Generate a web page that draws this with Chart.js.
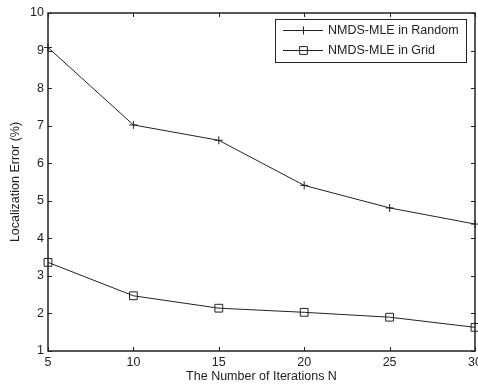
<!DOCTYPE html>
<html lang="en">
<head>
    <meta charset="UTF-8">
    <title>Localization Error</title>
    <script src="https://cdn.jsdelivr.net/npm/chart.js@4/dist/chart.umd.min.js"></script>
    <style>
        html, body { margin: 0; padding: 0; background: #fff; }
        #wrap { width: 478px; height: 387px; }
    </style>
</head>
<body>
    <div id="wrap"><canvas id="chart"></canvas></div>

    <script>
// dati
var iterations = [5, 10, 15, 20, 25, 30];
var errRandom = [9.08, 7.02, 6.61, 5.41, 4.81, 4.38];
var errGrid = [3.36, 2.47, 2.14, 2.03, 1.90, 1.63];
var seriesNames = ["NMDS-MLE in Random", "NMDS-MLE in Grid"];

var FONT = "'Liberation Sans', Arial, Helvetica, sans-serif";
var INK = "#222";

function toPoints(xs, ys) {
    return xs.map(function(x, i) { return { x: x, y: ys[i] }; });
}

// box stile MATLAB con tacche interne + legenda
var matlabBox = {
    id: "matlabBox",
    afterDatasetsDraw: function(chart) {
        var ctx = chart.ctx;
        var a = chart.chartArea;
        var xs = chart.scales.x, ys = chart.scales.y;
        ctx.save();
        ctx.strokeStyle = INK;
        ctx.lineWidth = 1;
        // tacche
        ctx.beginPath();
        xs.ticks.forEach(function(t) {
            var px = Math.round(xs.getPixelForValue(t.value)) + 0.5;
            ctx.moveTo(px, a.bottom); ctx.lineTo(px, a.bottom - 4);
            ctx.moveTo(px, a.top); ctx.lineTo(px, a.top + 4);
        });
        ys.ticks.forEach(function(t) {
            var py = Math.round(ys.getPixelForValue(t.value)) + 0.5;
            ctx.moveTo(a.left, py); ctx.lineTo(a.left + 4, py);
            ctx.moveTo(a.right, py); ctx.lineTo(a.right - 4, py);
        });
        ctx.stroke();
        // cornice
        ctx.lineWidth = 1.5;
        ctx.strokeRect(a.left, a.top, a.right - a.left, a.bottom - a.top);

        // legenda
        var lx = 275, ly = 19, lw = 191, lh = 43;
        ctx.fillStyle = "#fff";
        ctx.fillRect(lx, ly, lw, lh);
        ctx.lineWidth = 1;
        ctx.strokeRect(lx + 0.5, ly + 0.5, lw, lh);
        ctx.font = "12.5px " + FONT;
        ctx.textBaseline = "middle";
        chart.data.datasets.forEach(function(ds, i) {
            var ry = Math.round(ly + 11 + i * 20) + 0.5;
            ctx.strokeStyle = INK;
            ctx.lineWidth = 1;
            ctx.beginPath();
            ctx.moveTo(283, ry); ctx.lineTo(323, ry);
            ctx.stroke();
            ctx.fillStyle = "rgba(0,0,0,0)";
            Chart.helpers.drawPoint(ctx, {
                pointStyle: ds.pointStyle, radius: ds.pointRadius, borderWidth: 1
            }, 303.5, ry);
            ctx.fillStyle = INK;
            ctx.fillText(ds.label, 328, ry);
        });
        ctx.restore();
    }
};

new Chart(document.getElementById("chart"), {
    type: "line",
    data: {
        datasets: [{
            label: seriesNames[0],
            data: toPoints(iterations, errRandom),
            borderColor: INK,
            borderWidth: 1,
            pointStyle: "cross",
            pointRadius: 4,
            pointBorderColor: INK,
            pointBorderWidth: 1,
            clip: false,
            fill: false
        }, {
            label: seriesNames[1],
            data: toPoints(iterations, errGrid),
            borderColor: INK,
            borderWidth: 1,
            pointStyle: "rect",
            pointRadius: 5.5,
            pointBorderColor: INK,
            pointBackgroundColor: "rgba(0,0,0,0)",
            pointBorderWidth: 1,
            clip: false,
            fill: false
        }]
    },
    options: {
        responsive: true,
        maintainAspectRatio: false,
        animation: false,
        layout: { autoPadding: false, padding: { left: 0, right: 3, top: 13, bottom: 0 } },
        plugins: {
            legend: { display: false },
            tooltip: { enabled: false }
        },
        scales: {
            x: {
                type: "linear",
                min: 5, max: 30,
                grid: { display: false, drawTicks: false },
                border: { display: false },
                ticks: {
                    stepSize: 5, padding: 4, color: INK,
                    font: { family: FONT, size: 12.5 },
                    maxRotation: 0
                },
                title: {
                    display: true, text: "The Number of Iterations N", color: INK,
                    font: { family: FONT, size: 12.5 },
                    padding: { top: 0, bottom: 3 }
                },
                afterFit: function(s) { s.height = 36; s.paddingLeft = 0; s.paddingRight = 0; }
            },
            y: {
                min: 1, max: 10,
                grid: { display: false, drawTicks: false },
                border: { display: false },
                ticks: {
                    stepSize: 1, padding: 4, color: INK,
                    font: { family: FONT, size: 12.5 }
                },
                title: {
                    display: true, text: "Localization Error (%)", color: INK,
                    font: { family: FONT, size: 12.5 },
                    padding: { top: 8, bottom: 0 }
                },
                afterFit: function(s) { s.width = 48; s.paddingTop = 0; s.paddingBottom = 0; }
            }
        }
    },
    plugins: [matlabBox]
});
    </script>
</body>
</html>
